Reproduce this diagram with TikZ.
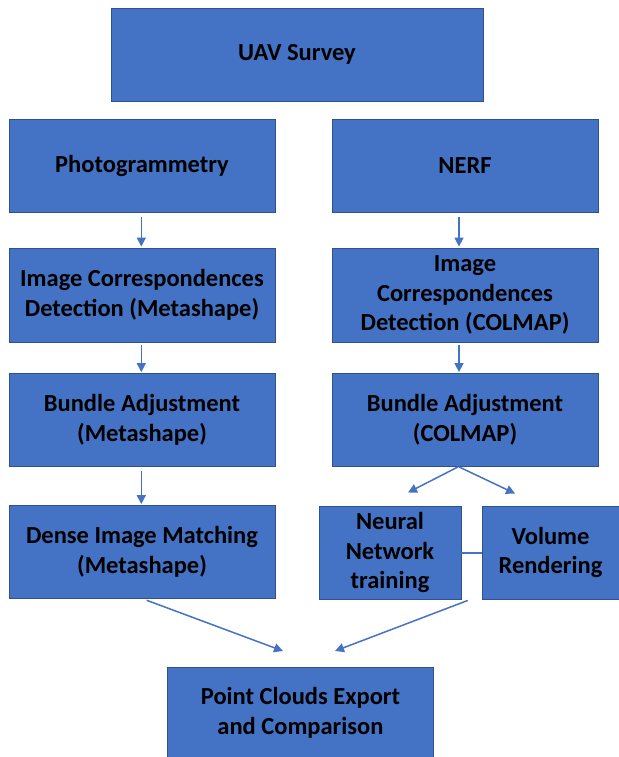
\documentclass[tikz,border=0pt]{standalone}
\usepackage{fontspec}
\setmainfont{Carlito}
\usetikzlibrary{arrows.meta}
\definecolor{boxfill}{HTML}{4472C4}
\definecolor{boxline}{HTML}{2F528F}
\definecolor{arrowc}{HTML}{4472C4}
\tikzset{
  flowbox/.style={draw=boxline, fill=boxfill, line width=0.8pt, align=center,
    inner sep=0pt, text=black,
    font=\fontsize{24.5}{29.8}\selectfont\bfseries},
  arr/.style={draw=arrowc, line width=1.5pt, -{Triangle[length=9pt,width=9pt]}},
  link/.style={draw=arrowc, line width=2pt}
}
\begin{document}
\begin{tikzpicture}[x=1pt,y=-1pt]
\useasboundingbox (0,0) rectangle (618,757);
% boxes
\node[flowbox, minimum width=372pt, minimum height=93pt] (uav) at (297,54.5) {UAV Survey};
\node[flowbox, minimum width=266pt, minimum height=93pt] (photo) at (142,166) {Photogrammetry};
\node[flowbox, minimum width=266pt, minimum height=93pt] (nerf) at (465,166) {NERF};
\node[flowbox, minimum width=266pt, minimum height=94pt] (ic1) at (142,295) {Image Correspondences\\Detection (Metashape)};
\node[flowbox, minimum width=266pt, minimum height=94pt] (ic2) at (465,295) {Image\\Correspondences\\Detection (COLMAP)};
\node[flowbox, minimum width=266pt, minimum height=93pt] (ba1) at (142,420) {Bundle Adjustment\\(Metashape)};
\node[flowbox, minimum width=266pt, minimum height=93pt] (ba2) at (465,420) {Bundle Adjustment\\(COLMAP)};
\node[flowbox, minimum width=266pt, minimum height=93pt] (dm) at (142,552) {Dense Image Matching\\(Metashape)};
\node[flowbox, minimum width=142pt, minimum height=93pt] (nn) at (390,552.5) {Neural\\Network\\training};
\node[flowbox, minimum width=137pt, minimum height=93pt] (vr) at (550.5,552.5) {Volume\\Rendering};
\node[flowbox, minimum width=266pt, minimum height=92pt] (pc) at (300.5,713) {Point Clouds Export\\and Comparison};
% free arrow tips
\coordinate (tnn) at (408,492.5);
\coordinate (tvr) at (515,493.5);
\coordinate (tpl) at (283,651);
\coordinate (tpr) at (335,651);
% connectors
\draw[arr, shorten <=4pt, shorten >=1pt] ([xshift=-0.7pt]photo.south) -- ([xshift=-0.7pt]ic1.north);
\draw[arr, shorten <=4pt, shorten >=1pt] ([xshift=-6pt]nerf.south) -- ([xshift=-6pt]ic2.north);
\draw[arr, shorten <=3pt, shorten >=1pt] ([xshift=-0.7pt]ic1.south) -- ([xshift=-0.7pt]ba1.north);
\draw[arr, shorten <=3pt, shorten >=1pt] ([xshift=-6pt]ic2.south) -- ([xshift=-6pt]ba2.north);
\draw[arr, shorten <=4pt, shorten >=1pt] ([xshift=-0.7pt]ba1.south) -- ([xshift=-0.7pt]dm.north);
\draw[arr] ([xshift=-7pt]ba2.south) -- (tnn);
\draw[arr] ([xshift=-6pt]ba2.south) -- (tvr);
\draw[arr, shorten <=4pt] ([xshift=1pt]dm.south) -- (tpl);
\draw[arr, shorten <=3pt] ([xshift=-80pt]vr.south) -- (tpr);
\draw[link] (nn.east) -- (vr.west);
\end{tikzpicture}
\end{document}
